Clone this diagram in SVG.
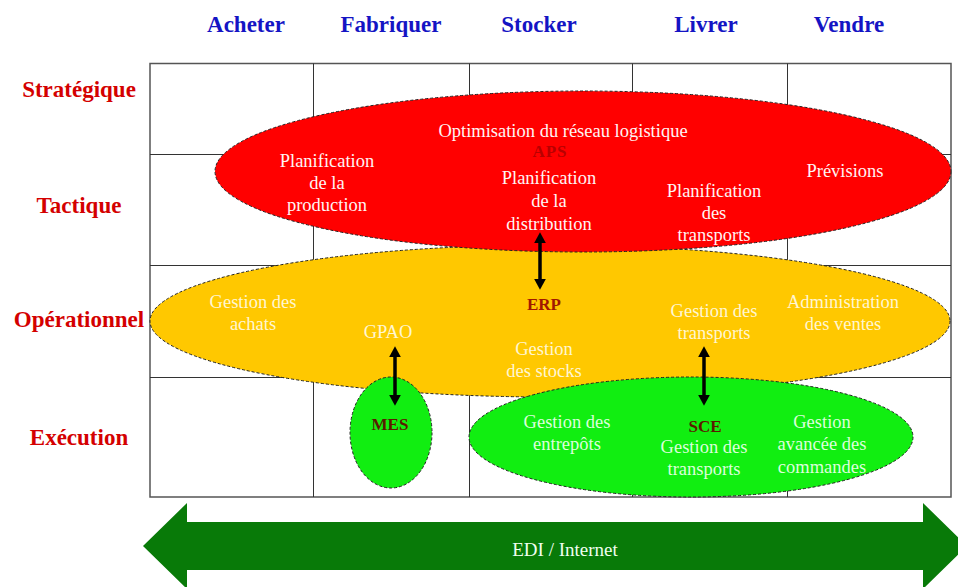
<svg xmlns="http://www.w3.org/2000/svg" width="958" height="587" viewBox="0 0 958 587">
  <style>
    .hdr { font-family: "Liberation Serif", "Times New Roman", serif; font-weight: bold; font-size: 23px; fill: #1414c4; text-anchor: middle; }
    .row { font-family: "Liberation Serif", "Times New Roman", serif; font-weight: bold; font-size: 23px; fill: #d40000; text-anchor: middle; }
    .grid { fill: none; stroke: #333; stroke-width: 1; }
    .frame { fill: none; stroke: #555; stroke-width: 1.5; }
    .zone { stroke: #222; stroke-width: 1; stroke-dasharray: 3 2; }
    .lbl { font-family: "Liberation Serif", "Times New Roman", serif; font-size: 18.5px; text-anchor: middle; }
    .onred { fill: #fff4f4; }
    .onyel { fill: #fff6d2; }
    .ongrn { fill: #dcffdc; }
    .sys { font-family: "Liberation Serif", "Times New Roman", serif; font-weight: bold; font-size: 17px; text-anchor: middle; }
    .link { fill: none; stroke: #000; stroke-width: 3.5; marker-start: url(#head); marker-end: url(#head); }
  </style>
  <defs>
    <marker id="head" viewBox="0 0 10 10" refX="3" refY="5" markerWidth="11" markerHeight="12" markerUnits="userSpaceOnUse" orient="auto-start-reverse" preserveAspectRatio="none">
      <path d="M0,0 L10,5 L0,10 z" fill="#000"/>
    </marker>
  </defs>

  <rect width="958" height="587" fill="#fff"/>

  <!-- column headers -->
  <g id="columns">
    <text class="hdr" x="246" y="32">Acheter</text>
    <text class="hdr" x="391" y="32">Fabriquer</text>
    <text class="hdr" x="539" y="32">Stocker</text>
    <text class="hdr" x="706" y="32">Livrer</text>
    <text class="hdr" x="849" y="32">Vendre</text>
  </g>

  <!-- row headers -->
  <g id="levels">
    <text class="row" x="79" y="97">Stratégique</text>
    <text class="row" x="79" y="213">Tactique</text>
    <text class="row" x="79" y="327">Opérationnel</text>
    <text class="row" x="79" y="445">Exécution</text>
  </g>

  <!-- matrix grid -->
  <g id="grid">
    <rect class="frame" x="150" y="63.5" width="801" height="433.5"/>
    <path class="grid" d="M313.5,63.5 V497 M469.5,63.5 V497 M632.5,63.5 V497 M787.5,63.5 V497 M150,154.5 H951 M150,265.5 H951 M150,377.5 H951"/>
  </g>

  <!-- ERP layer -->
  <g id="erp">
    <ellipse class="zone" cx="550" cy="321" rx="400" ry="76" fill="#ffc800"/>
    <text class="lbl onyel" x="253" y="308">Gestion des</text>
    <text class="lbl onyel" x="253" y="330">achats</text>
    <text class="lbl onyel" x="388" y="338">GPAO</text>
    <text class="sys" x="544" y="310" fill="#a01800">ERP</text>
    <text class="lbl onyel" x="544" y="355">Gestion</text>
    <text class="lbl onyel" x="544" y="377">des stocks</text>
    <text class="lbl onyel" x="714" y="317">Gestion des</text>
    <text class="lbl onyel" x="714" y="339">transports</text>
    <text class="lbl onyel" x="843" y="308">Administration</text>
    <text class="lbl onyel" x="843" y="330">des ventes</text>
  </g>

  <!-- APS layer -->
  <g id="aps">
    <ellipse class="zone" cx="583" cy="171.5" rx="368" ry="80.5" fill="#ff0000"/>
    <text class="lbl onred" x="563" y="137">Optimisation du réseau logistique</text>
    <text class="sys" x="550" y="157" fill="#b80000" letter-spacing="1">APS</text>
    <text class="lbl onred" x="327" y="167">Planification</text>
    <text class="lbl onred" x="327" y="189">de la</text>
    <text class="lbl onred" x="327" y="211">production</text>
    <text class="lbl onred" x="549" y="184">Planification</text>
    <text class="lbl onred" x="549" y="207">de la</text>
    <text class="lbl onred" x="549" y="230">distribution</text>
    <text class="lbl onred" x="714" y="197">Planification</text>
    <text class="lbl onred" x="714" y="219">des</text>
    <text class="lbl onred" x="714" y="241">transports</text>
    <text class="lbl onred" x="845" y="177">Prévisions</text>
  </g>

  <!-- MES -->
  <g id="mes">
    <ellipse class="zone" cx="391" cy="432.5" rx="41" ry="55.5" fill="#11ee11"/>
    <text class="sys" x="390" y="430" fill="#5a1a00">MES</text>
  </g>

  <!-- SCE -->
  <g id="sce">
    <ellipse class="zone" cx="691" cy="437" rx="222" ry="60" fill="#11ee11"/>
    <text class="lbl ongrn" x="567" y="428">Gestion des</text>
    <text class="lbl ongrn" x="567" y="450">entrepôts</text>
    <text class="sys" x="705" y="432" fill="#5a1a00">SCE</text>
    <text class="lbl ongrn" x="704" y="453">Gestion des</text>
    <text class="lbl ongrn" x="704" y="475">transports</text>
    <text class="lbl ongrn" x="822" y="428">Gestion</text>
    <text class="lbl ongrn" x="822" y="450">avancée des</text>
    <text class="lbl ongrn" x="822" y="473">commandes</text>
  </g>

  <!-- links between layers -->
  <g id="connectors">
    <path class="link" d="M540,240 V282"/>
    <path class="link" d="M395,354 V398"/>
    <path class="link" d="M704,354 V398"/>
  </g>

  <!-- EDI band -->
  <g id="edi">
    <polygon points="143,546 187,503 187,522 923,522 923,503 967,546 923,589 923,570 187,570 187,589" fill="#087a08"/>
    <text x="565" y="556" font-family="Liberation Serif, Times New Roman, serif" font-size="19" fill="#f0fff0" text-anchor="middle">EDI / Internet</text>
  </g>
</svg>
